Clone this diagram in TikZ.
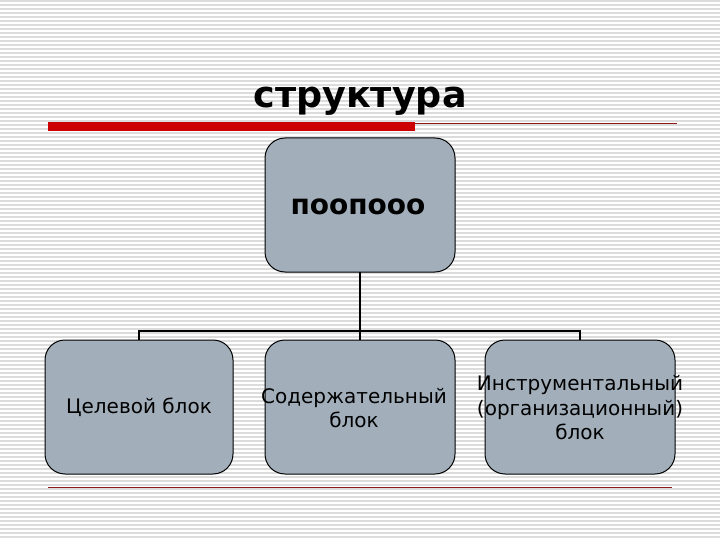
\documentclass[tikz,border=0pt]{standalone}
\usepackage{fontspec}
\setmainfont{DejaVu Sans}
\begin{document}
\begin{tikzpicture}[x=1pt,y=-1pt,
  box/.style={draw=black,line width=1pt,fill=boxfill,rounded corners=20pt,inner sep=0pt},
  conn/.style={draw=black,line width=2pt},
  lbl/.style={font=\fontsize{20}{24.5}\selectfont,align=center,text=black}]
\definecolor{boxfill}{HTML}{A2AFBB}
\definecolor{stripe}{HTML}{DCDCDC}
\definecolor{redbar}{HTML}{CC0000}
\definecolor{thinred}{HTML}{8B1A1A}
\useasboundingbox (0,0) rectangle (720,540);
\fill[white] (0,0) rectangle (720,540);
\foreach \i in {0,...,135} {\draw[stripe,line width=1.6pt] (0,\i*4+1) -- (720,\i*4+1);}
% title
\node[anchor=base,font=\bfseries\fontsize{36.5}{42}\selectfont] (title) at (360,108) {структура};
% rules
\fill[redbar] (48,122) rectangle (415,131);
\draw[thinred,line width=1pt] (415,123.5) -- (677,123.5);
\draw[thinred,line width=1pt] (48,487) -- (672,487);
% boxes
\path[box] (265,138) rectangle (455,272);
\node[font=\bfseries\fontsize{28}{32}\selectfont] (top) at (358,207) {поопооо};
\coordinate (topb) at (360,272);
\path[box] (45,340) rectangle (233,474);
\node[lbl] (b1) at (139,407) {Целевой блок};
\path[box] (265,340) rectangle (455,474);
\node[lbl] (b2) at (354,408) {Содержательный\\блок};
\path[box] (485,340) rectangle (675,474);
\node[lbl] (b3) at (580,408) {Инструментальный\\(организационный)\\блок};
% connectors
\coordinate (j) at (360,331);
\coordinate (t1) at (139,340);
\coordinate (t2) at (360,340);
\coordinate (t3) at (580,340);
\draw[conn] (topb) -- (t2);
\draw[conn] (t1) |- (j) -| (t3);
\end{tikzpicture}
\end{document}
